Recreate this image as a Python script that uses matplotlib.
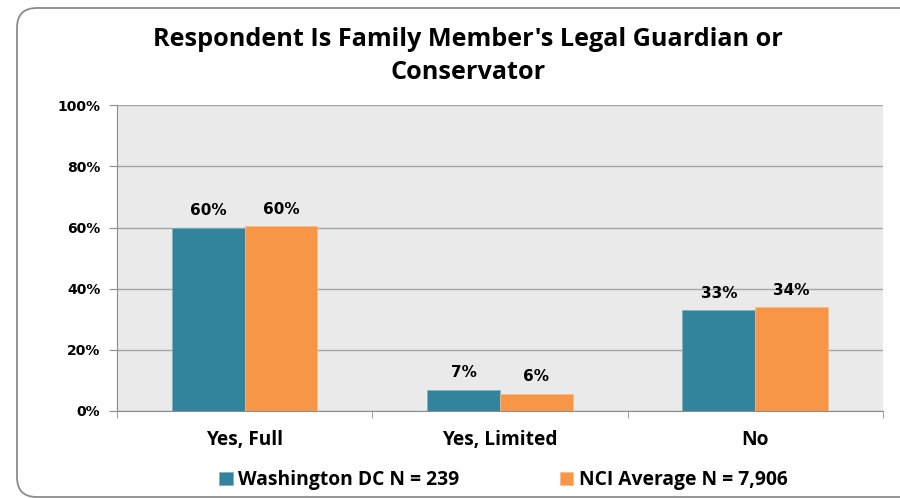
import numpy as np
import matplotlib.pyplot as plt
from matplotlib.patches import FancyBboxPatch

categories = ['Yes, Full', 'Yes, Limited', 'No']
dc_values = [60, 7, 33]
nci_values = [60.5, 5.7, 34]
dc_labels = ['60%', '7%', '33%']
nci_labels = ['60%', '6%', '34%']
series_names = ['Washington DC N = 239', 'NCI Average N = 7,906']
yticks = [0, 20, 40, 60, 80, 100]

teal = '#31849B'
orange = '#F79646'

fig = plt.figure(figsize=(9, 4.98), dpi=100)

# rounded chart border
border = FancyBboxPatch((17 / 900, 1 / 498), 1.1, 489 / 498,
                        boxstyle='round,pad=0,rounding_size=0.022',
                        transform=fig.transFigure, facecolor='white', edgecolor='#8C8C8C',
                        linewidth=1.3, zorder=-10, mutation_aspect=900 / 498)
fig.patches.append(border)

ax = fig.add_axes([0.13, 0.1747, 0.851, 0.614])
ax.set_facecolor('#EAEAEA')

x = np.arange(len(categories))
w = 0.285
b1 = ax.bar(x - w / 2, dc_values, w, color=teal, edgecolor='#7FB0BF', linewidth=0.5,
            label=series_names[0], zorder=3)
b2 = ax.bar(x + w / 2, nci_values, w, color=orange, edgecolor='#F9B98A', linewidth=0.5,
            label=series_names[1], zorder=3)

lab_font = dict(fontsize=11, fontweight='bold', family='DejaVu Sans', color='black')
for rect, t in zip(b1, dc_labels):
    ax.text(rect.get_x() + rect.get_width() / 2, rect.get_height() + 3, t,
            ha='center', va='bottom', **lab_font)
for rect, t in zip(b2, nci_labels):
    ax.text(rect.get_x() + rect.get_width() / 2, rect.get_height() + 3, t,
            ha='center', va='bottom', **lab_font)

ax.set_xlim(-0.5, 2.5)
ax.set_ylim(0, 100)
ax.set_yticks(yticks)
ax.set_yticklabels([f'{v}%' for v in yticks], fontsize=10, fontweight='bold', family='DejaVu Sans')
ax.yaxis.grid(True, color='#A6A6A6', linewidth=1.0, zorder=0)
ax.set_axisbelow(True)

ax.set_xticks(x)
ax.set_xticklabels(categories, fontsize=13.8, fontweight='bold', family='Open Sans')
ax.tick_params(axis='x', length=0, pad=14)
ax.set_xticks([-0.5, 0.5, 1.5, 2.5], minor=True)
ax.tick_params(axis='x', which='minor', length=5, color='#8C8C8C')
ax.tick_params(axis='y', length=6, color='#8C8C8C', pad=6)

for s in ['top', 'right']:
    ax.spines[s].set_visible(False)
ax.spines['left'].set_color('#8C8C8C')
ax.spines['bottom'].set_color('#8C8C8C')

fig.text(0.52, 0.888, "Respondent Is Family Member's Legal Guardian or\nConservator",
         ha='center', va='center', fontsize=18.2, fontweight='bold', family='Open Sans',
         linespacing=1.4)

fig.legend(handles=[b1, b2], labels=series_names, loc='center', bbox_to_anchor=(0.5594, 0.036),
           ncol=2, frameon=False, columnspacing=5.2, handlelength=0.7, handleheight=0.7,
           handletextpad=0.3, prop=dict(size=13.9, weight='bold', family='Open Sans'))

fig.savefig('out.png', dpi=100)
